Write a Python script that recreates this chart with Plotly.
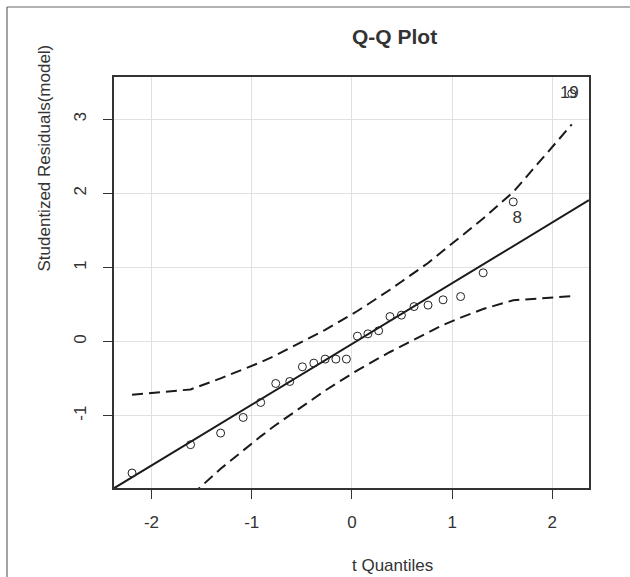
import plotly.graph_objects as go

# t quantiles (x) and studentized residuals (y)
t_quantiles = [-2.194, -1.61, -1.31, -1.085, -0.91, -0.76, -0.62, -0.494, -0.38, -0.267, -0.16, -0.055,
               0.055, 0.16, 0.267, 0.38, 0.494, 0.62, 0.76, 0.91, 1.085, 1.31, 1.61, 2.194]
stud_resid = [-1.773, -1.391, -1.234, -1.023, -0.821, -0.565, -0.538, -0.340, -0.290, -0.236, -0.236, -0.236,
              0.074, 0.105, 0.146, 0.338, 0.357, 0.473, 0.492, 0.564, 0.608, 0.928, 1.885, 3.345]

# confidence envelope
upper_env = [-0.717, -0.645, -0.496, -0.377, -0.278, -0.185, -0.090, -0.002, 0.076, 0.159, 0.242, 0.323,
             0.413, 0.504, 0.597, 0.700, 0.808, 0.926, 1.061, 1.225, 1.415, 1.660, 2.018, 2.930]
lower_env = [-2.881, -2.082, -1.716, -1.467, -1.278, -1.125, -0.990, -0.872, -0.764, -0.661, -0.568, -0.477,
             -0.387, -0.306, -0.223, -0.140, -0.062, 0.026, 0.121, 0.225, 0.323, 0.440, 0.558, 0.612]

# reference line
ref_slope = 0.82
ref_intercept = -0.032

# labelled points
id_labels = ["8", "19"]
id_x = [1.65, 2.17]
id_y = [1.66, 3.345]

x_ticks = [-2, -1, 0, 1, 2]
y_ticks = [-1, 0, 1, 2, 3]
x_range = [-2.374, 2.366]
y_range = [-1.975, 3.57]

FONT = "Liberation Sans, Arial, sans-serif"
TXT = "#333333"

fig = go.Figure()

line_x = x_range
line_y = [ref_intercept + ref_slope * v for v in line_x]
fig.add_trace(go.Scatter(x=line_x, y=line_y, mode="lines",
                         line=dict(color="#1a1a1a", width=2), hoverinfo="skip"))
fig.add_trace(go.Scatter(x=t_quantiles, y=upper_env, mode="lines",
                         line=dict(color="#1a1a1a", width=2, dash="11px,6px"), hoverinfo="skip"))
fig.add_trace(go.Scatter(x=t_quantiles, y=lower_env, mode="lines",
                         line=dict(color="#1a1a1a", width=2, dash="11px,6px"), hoverinfo="skip"))
fig.add_trace(go.Scatter(x=t_quantiles, y=stud_resid, mode="markers",
                         marker=dict(symbol="circle-open", size=8, color="#222222",
                                     line=dict(width=1, color="#222222")),
                         cliponaxis=False))
fig.add_trace(go.Scatter(x=id_x, y=id_y, mode="text", text=id_labels,
                         textfont=dict(family=FONT, size=17, color=TXT),
                         textposition="middle center", cliponaxis=False))

axis_common = dict(showgrid=True, gridcolor="#e0e0e0", gridwidth=1.3, zeroline=False,
                   showline=True, mirror=True, linecolor="#333333", linewidth=1.6,
                   ticks="outside", ticklen=9, tickcolor="#333333", tickwidth=1,
                   tickfont=dict(family=FONT, size=17, color=TXT))

fig.update_xaxes(range=x_range, tickvals=x_ticks, ticktext=[str(v) for v in x_ticks],
                 ticklabelstandoff=9, **axis_common)
fig.update_yaxes(range=y_range, tickvals=y_ticks, ticktext=[str(v) for v in y_ticks],
                 tickangle=-90, ticklabelstandoff=10, **axis_common)

L, R, T, B = 114, 41, 77, 89
W, H = 630, 577
pw, ph = W - L - R, H - T - B

def px(xp):
    return (xp - L) / pw

def py(yp):
    return (H - B - yp) / ph

annotations = [
    dict(text="<b>Q-Q Plot</b>", x=px(394.5), y=py(37), xref="paper", yref="paper",
         showarrow=False, xanchor="center", yanchor="middle",
         font=dict(family=FONT, size=21, color=TXT)),
    dict(text="t Quantiles", x=px(392), y=py(565), xref="paper", yref="paper",
         showarrow=False, xanchor="center", yanchor="middle",
         font=dict(family=FONT, size=17, color=TXT)),
    dict(text="Studentized Residuals(model)", x=px(44), y=py(158.5), xref="paper", yref="paper",
         showarrow=False, xanchor="center", yanchor="middle", textangle=-90,
         font=dict(family=FONT, size=17, color=TXT)),
]

shapes = [
    dict(type="line", xref="paper", yref="paper", x0=px(7), x1=px(7), y0=py(7), y1=py(580),
         line=dict(color="#666666", width=1.2)),
    dict(type="line", xref="paper", yref="paper", x0=px(7), x1=px(635), y0=py(7), y1=py(7),
         line=dict(color="#666666", width=1.2)),
]

fig.update_layout(width=W, height=H, margin=dict(l=L, r=R, t=T, b=B),
                  paper_bgcolor="white", plot_bgcolor="white", showlegend=False,
                  annotations=annotations, shapes=shapes)

fig.write_html("out.html")
